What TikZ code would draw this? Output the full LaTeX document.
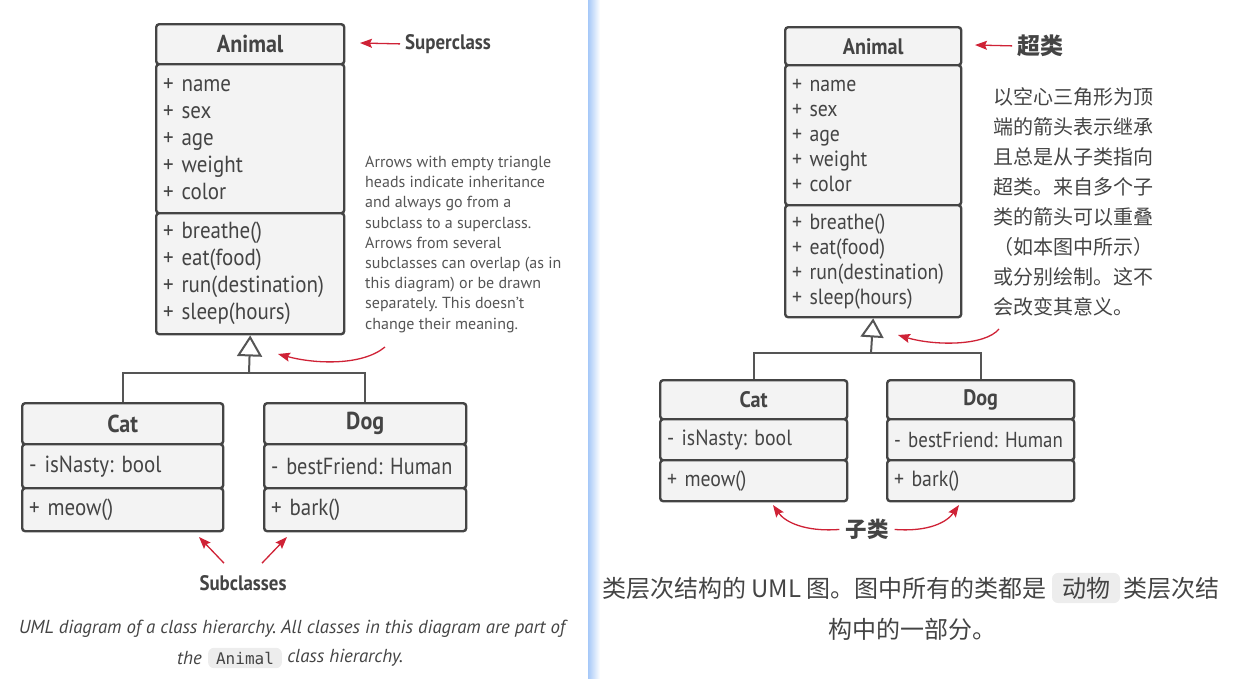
\documentclass[tikz,border=0pt]{standalone}
\usepackage{fontspec}
\setmainfont{PT Sans}
\setmonofont{DejaVu Sans Mono}
\newfontfamily\narrow{PT Sans}[FakeStretch=0.9]
\newfontfamily\squeeze{PT Sans}[FakeStretch=0.87]
\newfontfamily\cjk{Noto Sans CJK SC}
\usetikzlibrary{arrows.meta,positioning}
\frenchspacing
\definecolor{ink}{HTML}{444444}
\definecolor{wirecol}{HTML}{555555}
\definecolor{boxfill}{HTML}{F3F3F3}
\definecolor{redish}{HTML}{CF2236}
\definecolor{codebg}{HTML}{EDEDED}
\definecolor{rulebl}{HTML}{A6C8F8}
\newcommand{\bigtxt}{\narrow\fontsize{23.3}{27}\selectfont}
\newcommand{\smalltxt}{\narrow\fontsize{22}{25}\selectfont}

\tikzset{
  part/.style={draw=ink, fill=boxfill, line width=2.4pt, rounded corners=3pt,
    anchor=north west, text=ink, inner ysep=0pt},
  head/.style={part, font=\narrow\bfseries\fontsize{#1}{#1}\selectfont},
  list/.style={part, align=left, inner xsep=7pt},
  link/.style={draw=wirecol, line width=2pt},
  inh/.style={link, -{Triangle[open,length=21pt,width=25pt]}},
  redarr/.style={draw=redish, line width=1.3pt, -{Stealth[length=12pt,width=9pt,inset=2pt]}},
  lbl/.style={text=ink, inner sep=0pt, font=\narrow\bfseries\fontsize{#1}{#1}\selectfont},
  plain/.style={inner sep=0pt},
  codebox/.style={fill=codebg, rounded corners=6pt, inner xsep=#1, inner ysep=4pt},
}

\begin{document}
\begin{tikzpicture}[x=1pt,y=-1pt]
\useasboundingbox (0,0) rectangle (1233,678);
\shade[left color=rulebl, right color=white] (588,0) rectangle (600,678);

% english half
\node[head=24.5, minimum width=188, minimum height=40] (a0) at (155,23) {Animal};
\node[list, text width=174, minimum height=149, font=\bigtxt] (a1) at (155,63) {+ name\\+ sex\\+ age\\+ weight\\+ color};
\node[list, text width=174, minimum height=121, font=\bigtxt] (a2) at (155,212) {+ breathe()\\+ eat(food)\\+ run(destination)\\+ sleep(hours)};

\node[head=24.5, minimum width=201, minimum height=41] (c0) at (21,402) {Cat};
\node[list, text width=187, minimum height=44, font=\bigtxt] (c1) at (21,443) {- isNasty: bool};
\node[list, text width=187, minimum height=43, font=\bigtxt] (c2) at (21,487) {+ meow()};
\node[head=24.5, minimum width=202, minimum height=41] (d0) at (263,402) {Dog};
\node[list, text width=188, minimum height=44, font=\squeeze\fontsize{23.3}{27}\selectfont] (d1) at (263,443) {-~bestFriend:~Human};
\node[list, text width=188, minimum height=43, font=\bigtxt] (d2) at (263,487) {+ bark()};

\coordinate (jl) at (249,373);
\draw[link] (c0.north) |- (jl) -| (d0.north);
\draw[inh] (jl) -- (a2.south);

\node[lbl=21, anchor=west] (sup) at (405,44) {Superclass};
\coordinate (supT) at (360,43);
\draw[redarr, shorten <=5pt] (sup.west) -- (supT);

\node[plain, anchor=north west, align=left, text=wirecol, font=\fontsize{16}{20.2}\selectfont] (nt) at (365,156)
  {Arrows with empty triangle\\heads indicate inheritance\\and always go from a\\subclass to a superclass.\\Arrows from several\\subclasses can overlap (as in\\this diagram) or be drawn\\separately. This doesn't\\change their meaning.};
\coordinate (nt1) at (385,347);
\coordinate (nt2) at (278,354);
\draw[redarr] (nt1) .. controls (362,366) and (315,364) .. (nt2);

\node[lbl=21] (sub) at (243,583) {Subclasses};
\coordinate (s1) at (199,537);
\coordinate (s2) at (287,537);
\draw[redarr] ([shift={(-19,-12)}]sub.north) -- (s1);
\draw[redarr] ([shift={(19,-12)}]sub.north) -- (s2);

\node[codebox=8pt, font=\ttfamily\fontsize{16}{16}\selectfont, text=ink] (cd1) at (245,658) {Animal};
\node[plain, text=ink, font=\itshape\fontsize{18.8}{18.8}\selectfont, left=6pt of cd1] (cp2) {the};
\node[plain, text=ink, font=\itshape\fontsize{18.8}{18.8}\selectfont, right=5pt of cd1] (cp3) {class hierarchy.};
\node[plain, text=ink, font=\itshape\fontsize{18.8}{18.8}\selectfont] (cp1) at (292,629) {UML diagram of a class hierarchy. All classes in this diagram are part of};

% chinese half
\node[head=22.4, minimum width=176, minimum height=38] (b0) at (784,26) {Animal};
\node[list, text width=162, minimum height=140, font=\smalltxt] (b1) at (784,64) {+ name\\+ sex\\+ age\\+ weight\\+ color};
\node[list, text width=162, minimum height=112, font=\smalltxt] (b2) at (784,204) {+ breathe()\\+ eat(food)\\+ run(destination)\\+ sleep(hours)};

\node[head=22.4, minimum width=187, minimum height=39] (e0) at (659,379) {Cat};
\node[list, text width=173, minimum height=41, font=\smalltxt] (e1) at (659,418) {- isNasty: bool};
\node[list, text width=173, minimum height=41, font=\smalltxt] (e2) at (659,459) {+ meow()};
\node[head=22.4, minimum width=187, minimum height=39] (f0) at (886,379) {Dog};
\node[list, text width=173, minimum height=41, font=\squeeze\fontsize{21.7}{25}\selectfont] (f1) at (886,418) {-~bestFriend:~Human};
\node[list, text width=173, minimum height=41, font=\smalltxt] (f2) at (886,459) {+ bark()};

\coordinate (jr) at (871,353);
\draw[link] (e0.north) |- (jr) -| (f0.north);
\draw[link, -{Triangle[open,length=19pt,width=23pt]}] (jr) -- (b2.south);

\node[plain, text=ink, font=\cjk\bfseries\fontsize{23}{23}\selectfont, anchor=west] (chao) at (1017,46) {超类};
\coordinate (chT) at (975,45);
\draw[redarr, shorten <=5pt] (chao.west) -- (chT);

\node[plain, anchor=north west, align=left, text=ink, font=\cjk\fontsize{20}{30}\selectfont] (nt3) at (993,87)
  {以空心三角形为顶\\端的箭头表示继承\\且总是从子类指向\\超类。来自多个子\\类的箭头可以重叠\\（如本图中所示）\\或分别绘制。这不\\会改变其意义。};
\coordinate (nt4) at (999,329);
\coordinate (nt5) at (898,335);
\draw[redarr] (nt4) .. controls (985,346) and (935,346) .. (nt5);

\node[plain, text=ink, font=\cjk\bfseries\fontsize{21.5}{21.5}\selectfont] (zi) at (867,529) {子类};
\coordinate (z1) at (773,505);
\coordinate (z2) at (959,505);
\draw[redarr, shorten <=6pt] (zi.west) .. controls (805,532) and (785,522) .. (z1);
\draw[redarr, shorten <=6pt] (zi.east) .. controls (929,532) and (947,522) .. (z2);

\node[codebox=10pt, text=ink, font=\cjk\fontsize{24}{24}\selectfont] (cd2) at (1086,588) {动物};
\node[plain, text=ink, font=\cjk\fontsize{24}{24}\selectfont, left=5pt of cd2] (cq1) {类层次结构的 UML 图。图中所有的类都是};
\node[plain, text=ink, font=\cjk\fontsize{24}{24}\selectfont, right=3pt of cd2] (cq2) {类层次结};
\node[plain, text=ink, font=\cjk\fontsize{24}{24}\selectfont] (cq3) at (912,629) {构中的一部分。};
\end{tikzpicture}
\end{document}
